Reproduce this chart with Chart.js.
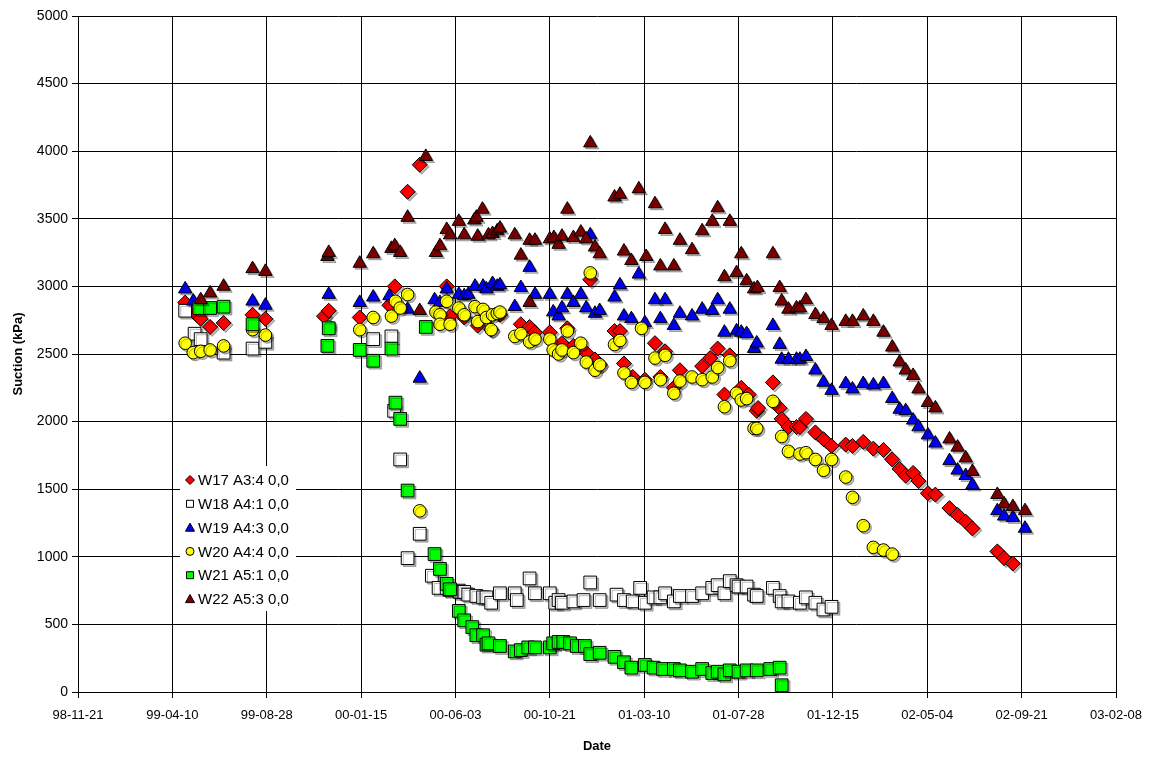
<!DOCTYPE html>
<html>
<head>
<meta charset="utf-8">
<script src="https://cdn.jsdelivr.net/npm/chart.js@4/dist/chart.umd.min.js"></script>
<style>
  html, body { margin: 0; padding: 0; background: #fff; }
</style>
</head>
<body>
<canvas id="chart" width="1158" height="758"></canvas>
<script>
// each point: [days after 98-11-21, suction in kPa]
const w17 = [[159,2880],[174,2800],[182,2760],[196,2700],[216,2730],[259,2790],[278,2760],[365,2780],[372,2820],[418,2770],[462,2860],[470,3000],[489,3700],[507,3900],[547,3000],[552,2780],[573,2770],[593,2710],[613,2680],[626,2790],[657,2720],[670,2700],[678,2660],[700,2660],[718,2580],[726,2690],[735,2560],[754,2510],[760,3050],[767,2460],[774,2420],[796,2670],[804,2670],[810,2430],[823,2330],[841,2310],[856,2580],[864,2330],[871,2520],[884,2250],[893,2380],[926,2410],[938,2470],[949,2540],[959,2200],[967,2490],[984,2250],[995,2200],[1007,2080],[1009,2100],[1031,2290],[1041,2100],[1044,2020],[1054,1960],[1066,1960],[1071,1960],[1080,2020],[1094,1920],[1106,1870],[1118,1820],[1139,1830],[1149,1820],[1165,1850],[1180,1800],[1195,1790],[1208,1720],[1219,1650],[1228,1600],[1239,1620],[1247,1560],[1261,1470],[1272,1460],[1293,1360],[1305,1310],[1317,1260],[1327,1210],[1364,1040],[1374,990],[1387,950]];
const w18 = [[159,2820],[173,2650],[182,2610],[216,2510],[259,2540],[278,2590],[438,2610],[465,2630],[469,2080],[478,1720],[489,990],[507,1170],[525,860],[535,770],[547,770],[552,755],[565,750],[567,740],[573,740],[579,720],[591,710],[601,700],[606,700],[613,660],[626,730],[648,730],[651,680],[670,840],[678,730],[700,730],[708,660],[713,680],[718,660],[735,670],[750,680],[760,810],[774,680],[799,720],[810,680],[823,670],[834,770],[841,660],[854,700],[864,700],[871,730],[884,670],[893,710],[911,710],[926,730],[941,770],[949,790],[959,730],[967,820],[977,790],[980,780],[992,780],[1003,720],[1007,710],[1031,770],[1041,710],[1044,670],[1054,670],[1071,660],[1080,700],[1094,660],[1106,610],[1118,630]];
const w19 = [[159,2980],[171,2890],[259,2890],[278,2860],[372,2940],[418,2880],[438,2920],[462,2930],[489,2830],[507,2320],[529,2900],[537,2880],[547,2980],[565,2940],[573,2930],[579,2940],[589,3000],[601,3000],[606,2980],[615,3020],[622,3000],[626,3010],[648,2850],[657,2990],[670,3140],[678,2940],[700,2940],[705,2810],[713,2780],[718,2840],[726,2940],[735,2880],[746,2940],[754,2840],[760,3380],[767,2800],[774,2820],[796,2920],[804,3010],[810,2780],[821,2760],[832,3090],[841,2730],[856,2900],[864,2760],[871,2900],[884,2710],[893,2800],[911,2780],[926,2830],[941,2820],[949,2900],[959,2660],[967,2830],[977,2670],[984,2660],[992,2650],[1003,2540],[1007,2580],[1031,2710],[1041,2570],[1044,2460],[1054,2460],[1066,2460],[1071,2460],[1080,2480],[1094,2380],[1106,2290],[1118,2230],[1139,2280],[1149,2240],[1165,2280],[1180,2270],[1195,2280],[1208,2170],[1219,2090],[1228,2080],[1239,2010],[1247,1960],[1261,1900],[1272,1840],[1293,1710],[1305,1640],[1317,1600],[1327,1530],[1364,1340],[1374,1300],[1387,1290],[1405,1210]];
const w20 = [[159,2580],[171,2510],[182,2520],[196,2530],[216,2560],[259,2680],[278,2640],[372,2700],[418,2680],[438,2770],[465,2780],[471,2890],[478,2840],[489,2940],[507,1340],[531,2810],[537,2790],[537,2720],[547,2890],[552,2720],[565,2840],[573,2790],[589,2850],[593,2740],[601,2830],[606,2770],[613,2680],[615,2790],[622,2800],[626,2810],[648,2630],[657,2650],[670,2590],[678,2610],[700,2610],[705,2530],[713,2500],[718,2530],[726,2670],[735,2510],[746,2580],[754,2440],[760,3100],[767,2380],[774,2420],[796,2570],[804,2600],[810,2360],[821,2290],[836,2690],[841,2290],[856,2470],[864,2310],[871,2490],[884,2210],[893,2300],[911,2330],[926,2310],[941,2330],[949,2400],[959,2110],[967,2450],[977,2210],[984,2160],[992,2170],[1003,1950],[1007,1950],[1031,2150],[1044,1890],[1054,1780],[1071,1760],[1080,1770],[1094,1720],[1106,1640],[1118,1720],[1139,1590],[1149,1440],[1165,1230],[1180,1070],[1195,1050],[1208,1020]];
const w21 = [[180,2840],[196,2840],[216,2850],[259,2720],[370,2560],[372,2690],[418,2530],[438,2450],[465,2540],[471,2140],[478,2020],[489,1490],[516,2700],[529,1020],[537,910],[547,800],[552,760],[565,600],[573,530],[585,480],[591,420],[601,420],[606,350],[609,360],[626,340],[648,300],[657,310],[668,330],[678,330],[700,330],[705,360],[713,370],[720,370],[730,360],[740,340],[752,340],[760,280],[774,290],[796,260],[810,220],[821,180],[841,200],[854,180],[868,170],[884,170],[893,160],[911,150],[926,170],[941,140],[949,150],[959,130],[967,160],[980,150],[992,160],[1007,160],[1027,170],[1041,180],[1044,50]];
const w22 = [[182,2900],[196,2950],[216,3000],[259,3130],[278,3110],[370,3220],[372,3250],[418,3170],[438,3240],[465,3280],[470,3300],[478,3250],[489,3510],[507,2820],[516,3960],[531,3250],[537,3300],[547,3420],[552,3380],[565,3480],[573,3380],[588,3490],[591,3510],[593,3370],[600,3570],[609,3380],[615,3390],[622,3410],[626,3430],[648,3380],[657,3230],[670,3340],[670,2880],[678,3340],[700,3350],[706,3360],[713,3310],[718,3370],[726,3570],[735,3360],[746,3400],[754,3350],[760,4060],[767,3290],[774,3240],[796,3660],[804,3680],[810,3260],[821,3190],[832,3720],[843,3220],[856,3610],[864,3150],[871,3420],[884,3150],[893,3340],[911,3270],[926,3410],[941,3480],[949,3580],[959,3070],[967,3480],[977,3100],[984,3240],[992,3040],[1003,2980],[1008,2990],[1031,3240],[1041,2990],[1044,2890],[1054,2830],[1066,2840],[1071,2840],[1080,2900],[1094,2790],[1106,2760],[1118,2710],[1139,2740],[1149,2740],[1165,2780],[1180,2740],[1195,2660],[1208,2550],[1219,2440],[1228,2380],[1239,2340],[1247,2240],[1261,2140],[1272,2100],[1293,1870],[1305,1810],[1317,1730],[1327,1630],[1364,1460],[1374,1390],[1387,1370],[1405,1340]];

const seriesData = [w17, w18, w19, w20, w21, w22];
const seriesNames = ['W17 A3:4 0,0', 'W18 A4:1 0,0', 'W19 A4:3 0,0', 'W20 A4:4 0,0', 'W21 A5:1 0,0', 'W22 A5:3 0,0'];
const seriesColors = ['#ff0000', '#ffffff', '#0000ff', '#ffff00', '#00ff00', '#800000'];
const seriesShapes = ['rectRot', 'rect', 'triangle', 'circle', 'rect', 'triangle'];
const seriesSizes = [7.5, 9, 7.7, 6.3, 9, 7.7];

const xMax = 1540;   // 03-02-08
const xStep = 140;
const yMax = 5000;
const yStep = 500;

const FONT = '"Liberation Sans", Arial, sans-serif';

function dayLabel(d) {
  const t = new Date(Date.UTC(1998, 10, 21) + d * 86400000);
  const p = n => String(n).padStart(2, '0');
  return p(t.getUTCFullYear() % 100) + '-' + p(t.getUTCMonth() + 1) + '-' + p(t.getUTCDate());
}

function drawMarker(ctx, shape, x, y, r) {
  ctx.beginPath();
  if (shape === 'circle') {
    ctx.arc(x, y, r, 0, Math.PI * 2);
  } else if (shape === 'rect') {
    ctx.rect(x - r, y - r, r * 2, r * 2);
  } else if (shape === 'rectRot') {
    ctx.moveTo(x, y - r); ctx.lineTo(x + r, y); ctx.lineTo(x, y + r); ctx.lineTo(x - r, y);
    ctx.closePath();
  } else {
    ctx.moveTo(x, y - r); ctx.lineTo(x + r, y + r * 0.8); ctx.lineTo(x - r, y + r * 0.8);
    ctx.closePath();
  }
  ctx.fill();
  ctx.stroke();
}

// excel-like grey drop shadow under the markers
const shadowPlugin = {
  id: 'shadow',
  beforeDatasetsDraw(chart) {
    const ctx = chart.ctx;
    ctx.save();
    ctx.shadowColor = 'rgba(0,0,0,0.28)';
    ctx.shadowOffsetX = 2;
    ctx.shadowOffsetY = 2;
    ctx.shadowBlur = 0;
  },
  afterDatasetsDraw(chart) {
    chart.ctx.restore();
  }
};

// legend box inside the plot area
const legendPlugin = {
  id: 'innerLegend',
  afterDraw(chart) {
    const ctx = chart.ctx;
    ctx.save();
    ctx.fillStyle = '#fff';
    ctx.fillRect(180, 466, 116, 145);
    ctx.font = '15px ' + FONT;
    ctx.textBaseline = 'middle';
    ctx.lineWidth = 1;
    ctx.strokeStyle = '#000';
    seriesNames.forEach((name, i) => {
      const y = 480 + i * 23.8;
      ctx.fillStyle = seriesColors[i];
      const s = seriesShapes[i];
      drawMarker(ctx, s, 190, y, s === 'rectRot' ? 4.5 : (s === 'circle' ? 4 : (s === 'triangle' ? 4.5 : 3.5)));
      ctx.fillStyle = '#000';
      ctx.fillText(name, 198, y + 1);
    });
    ctx.restore();
  }
};

const datasets = seriesData.map((pts, i) => ({
  label: seriesNames[i],
  data: pts.map(p => ({ x: p[0], y: p[1] })),
  showLine: false,
  pointStyle: seriesShapes[i],
  pointRadius: seriesSizes[i],
  pointHoverRadius: seriesSizes[i],
  pointBackgroundColor: seriesColors[i],
  pointBorderColor: '#000',
  pointBorderWidth: 1,
  order: seriesData.length - i
}));

new Chart(document.getElementById('chart'), {
  type: 'scatter',
  data: { datasets },
  plugins: [shadowPlugin, legendPlugin],
  options: {
    responsive: false,
    animation: false,
    layout: { padding: { top: 16, right: 42, left: 0, bottom: 0 } },
    plugins: {
      legend: { display: false },
      tooltip: { enabled: false }
    },
    scales: {
      x: {
        type: 'linear',
        min: 0,
        max: xMax,
        afterFit: s => { s.height = 66; },
        ticks: {
          stepSize: xStep,
          color: '#000',
          font: { family: FONT, size: 13 },
          padding: 10,
          maxRotation: 0,
          callback: v => dayLabel(v)
        },
        grid: { color: '#000', lineWidth: 1, tickLength: 6, tickColor: '#000' },
        border: { color: '#000', width: 1 },
        title: {
          display: true,
          text: 'Date',
          color: '#000',
          font: { family: FONT, size: 13, weight: 'bold' },
          padding: { top: 0, bottom: 4 }
        }
      },
      y: {
        min: 0,
        max: yMax,
        afterFit: s => { s.width = 78; },
        ticks: {
          stepSize: yStep,
          color: '#000',
          font: { family: FONT, size: 14 },
          padding: 4,
          callback: v => String(v)
        },
        grid: { color: '#000', lineWidth: 1, tickLength: 6, tickColor: '#000' },
        border: { color: '#000', width: 1 },
        title: {
          display: true,
          text: 'Suction (kPa)',
          color: '#000',
          font: { family: FONT, size: 13, weight: 'bold' },
          padding: { top: 11, bottom: 0 }
        }
      }
    }
  }
});
</script>
</body>
</html>
